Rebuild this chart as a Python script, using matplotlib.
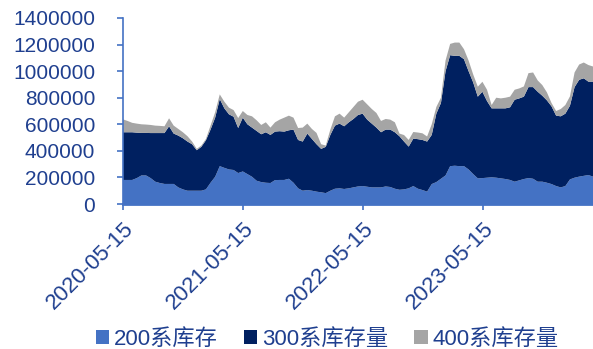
import numpy as np
import pandas as pd
import matplotlib
matplotlib.use("Agg")
import matplotlib.pyplot as plt
import matplotlib.dates as mdates
from matplotlib.patches import Patch
from matplotlib.ticker import FuncFormatter

# biweekly stock readings (thousand tons), starting 2020-05-15
start = "2020-05-15"

stock_200 = [181, 181, 181, 195, 215, 215, 195, 168, 158, 151, 151, 151, 125, 110, 100, 100, 100, 100,
             110, 160, 205, 285, 272, 260, 256, 233, 245, 225, 205, 175, 165, 160, 158, 180, 181, 181,
             190, 160, 118, 100, 105, 100, 93, 88, 82, 100, 115, 118, 113, 118, 125, 132, 135, 130,
             125, 125, 125, 132, 128, 115, 107, 110, 118, 135, 115, 105, 93, 150, 165, 190, 215, 285,
             288, 285, 285, 260, 225, 193, 195, 198, 201, 198, 193, 188, 181, 168, 178, 188, 195, 190,
             168, 168, 160, 150, 135, 125, 135, 185, 198, 206, 212, 218, 206]

stock_300 = [359, 359, 359, 342, 320, 320, 339, 366, 376, 383, 434, 379, 390, 385, 370, 350, 305, 330,
             370, 400, 445, 505, 448, 415, 401, 339, 405, 375, 370, 375, 360, 380, 362, 365, 367, 364,
             365, 400, 364, 370, 425, 390, 357, 327, 348, 420, 475, 487, 472, 497, 515, 538, 545, 505,
             480, 450, 415, 428, 432, 425, 403, 360, 314, 357, 373, 377, 377, 370, 515, 570, 785, 835,
             827, 830, 805, 740, 690, 615, 650, 577, 519, 522, 527, 532, 547, 617, 617, 620, 685, 690,
             677, 647, 620, 585, 530, 535, 545, 555, 682, 729, 734, 703, 715]

stock_400 = [97, 85, 71, 68, 65, 63, 61, 56, 54, 51, 60, 60, 50, 45, 40, 20, 10, 10,
             10, 30, 40, 35, 50, 50, 50, 75, 50, 70, 85, 80, 70, 75, 55, 70, 87, 105,
             110, 90, 90, 105, 75, 75, 85, 35, 10, 40, 70, 75, 65, 75, 90, 100, 105, 115,
             110, 110, 85, 80, 75, 75, 20, 49, 50, 50, 50, 50, 38, 80, 50, 40, 80, 85,
             100, 100, 75, 80, 60, 75, 75, 85, 25, 80, 75, 80, 80, 75, 75, 77, 105, 110,
             85, 80, 60, 25, 35, 55, 65, 70, 110, 115, 119, 125, 114]

labels = ["200系库存", "300系库存量", "400系库存量"]
colors = ["#4472C4", "#002060", "#A5A5A5"]
tick_dates = ["2020-05-15", "2021-05-15", "2022-05-15", "2023-05-15"]

dates = pd.date_range(start, periods=len(stock_200), freq="14D")
s200 = np.array(stock_200) * 1000
s300 = np.array(stock_300) * 1000
s400 = np.array(stock_400) * 1000

plt.rcParams["font.family"] = ["Liberation Sans", "Noto Sans CJK SC"]
text_color = "#1F3F8F"
axis_color = "#4472C4"

fig = plt.figure(figsize=(5.93, 3.49), dpi=100)
ax = fig.add_axes([123 / 593, 145 / 349, 470 / 593, 186 / 349])

ax.stackplot(dates, s200, s300, s400, colors=colors, linewidth=0)

ax.set_ylim(0, 1400000)
ax.set_yticks(np.arange(0, 1400001, 200000))
ax.yaxis.set_major_formatter(FuncFormatter(lambda v, p: f"{int(v)}"))
ax.set_xlim(dates[0], dates[-1])
ax.set_xticks(pd.to_datetime(tick_dates))
ax.xaxis.set_major_formatter(mdates.DateFormatter("%Y-%m-%d"))

for s in ["top", "right"]:
    ax.spines[s].set_visible(False)
ax.spines["left"].set_color(axis_color)
ax.spines["left"].set_linewidth(1.2)
ax.spines["bottom"].set_color(axis_color)
ax.spines["bottom"].set_linewidth(2)

ax.tick_params(axis="both", colors=axis_color, labelcolor=text_color, length=4, width=1.2)
ax.tick_params(axis="y", labelsize=15, pad=16)
ax.tick_params(axis="x", labelsize=16, pad=6)
plt.setp(ax.get_xticklabels(), rotation=45, ha="right", rotation_mode="anchor")

handles = [Patch(facecolor=c, edgecolor="none") for c in colors]
fig.legend(handles, labels, loc="center", bbox_to_anchor=(327 / 593, 10 / 349), ncol=3, frameon=False,
           fontsize=16, labelcolor=text_color, handlelength=0.6, handleheight=0.6,
           handletextpad=0.2, columnspacing=1.2)

fig.savefig("out.png", dpi=100)
